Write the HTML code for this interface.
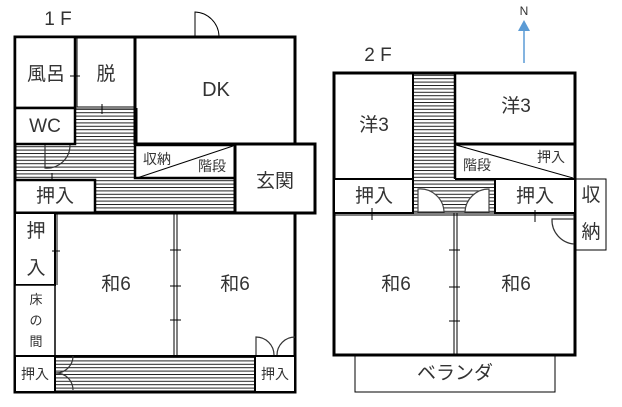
<!DOCTYPE html>
<html><head><meta charset="utf-8"><style>
body{margin:0;background:#fff}
svg{display:block}
text{font-family:"Liberation Sans","Noto Sans CJK JP",sans-serif;fill:#333}
</style></head><body>
<svg width="622" height="407" viewBox="0 0 622 407" xmlns="http://www.w3.org/2000/svg">
<defs>
<pattern id="h" width="8" height="3.4" patternUnits="userSpaceOnUse">
<rect width="8" height="3.4" fill="#fff"/><line x1="0" y1="0.5" x2="8" y2="0.5" stroke="#222" stroke-width="1"/>
</pattern>
</defs>
<rect x="76" y="109" width="59" height="36" fill="url(#h)"/>
<rect x="15" y="145" width="120" height="35" fill="url(#h)"/>
<rect x="95" y="178" width="140" height="35" fill="url(#h)"/>
<rect x="55" y="356" width="200" height="35" fill="url(#h)"/>
<rect x="413" y="74" width="42" height="140" fill="url(#h)"/>
<rect x="413" y="179" width="82" height="34" fill="url(#h)"/>

<g fill="none" stroke="#000">
<rect x="15" y="37" width="280" height="355" stroke-width="3"/>
<rect x="15" y="37" width="60" height="71" stroke-width="2.5" fill="#fff"/>
<rect x="15" y="108" width="60" height="36" stroke-width="2.5" fill="#fff"/>
<rect x="77" y="38" width="58" height="69" stroke-width="1" fill="#fff"/>
<line x1="135" y1="37" x2="135" y2="145" stroke-width="3"/>
<line x1="135" y1="144" x2="295" y2="144" stroke-width="3"/>
<line x1="137" y1="108" x2="137" y2="144" stroke-width="1"/>
<line x1="75" y1="109" x2="137" y2="109" stroke-width="1"/>
<rect x="135" y="145" width="100" height="33" stroke-width="2.5" fill="#fff"/>
<line x1="137" y1="178" x2="233" y2="146" stroke-width="1"/>
<rect x="235" y="144" width="80" height="69" stroke-width="3" fill="#fff"/>
<rect x="15" y="180" width="80" height="33" stroke-width="2.5" fill="#fff"/>
<line x1="15" y1="213" x2="235" y2="213" stroke-width="3"/>
<rect x="15" y="213" width="40" height="72" stroke-width="2" fill="#fff"/>
<line x1="57" y1="213" x2="57" y2="285" stroke-width="1"/>
<rect x="15" y="285" width="40" height="71" stroke-width="1.5" fill="#fff"/>
<line x1="174" y1="213" x2="174" y2="356" stroke-width="1"/>
<line x1="177" y1="213" x2="177" y2="356" stroke-width="1"/>
<line x1="55" y1="356" x2="295" y2="356" stroke-width="2"/>
<rect x="15" y="356" width="40" height="36" stroke-width="2" fill="#fff"/>
<rect x="255" y="356" width="40" height="36" stroke-width="2" fill="#fff"/>
<line x1="70" y1="76" x2="80" y2="76" stroke-width="1"/>
<line x1="102" y1="104" x2="102" y2="114" stroke-width="1"/>
<line x1="52" y1="251" x2="60" y2="251" stroke-width="1"/>
<line x1="170" y1="250" x2="181" y2="250" stroke-width="1"/>
<line x1="170" y1="286" x2="181" y2="286" stroke-width="1"/>
<line x1="170" y1="320" x2="181" y2="320" stroke-width="1"/>
<line x1="52" y1="173" x2="52" y2="180" stroke-width="1"/>
<path d="M195 37 V12 A25 25 0 0 1 219 36" stroke-width="1"/>
<path d="M45 145 V168 A23 23 0 0 0 70 145" stroke="#333" stroke-width="1.2"/>
<path d="M56 373 A17 17 0 0 0 73 356 M56 373 A17 17 0 0 1 73 390" stroke="#333" stroke-width="1.2"/>
<path d="M256 355 V337 A18 18 0 0 1 274 355 M277 355 A18 18 0 0 1 295 337" stroke="#333" stroke-width="1.2"/>

<rect x="334" y="73" width="241" height="282" stroke-width="3"/>
<line x1="413" y1="73" x2="413" y2="213" stroke-width="2"/>
<line x1="455" y1="73" x2="455" y2="179" stroke-width="2.5"/>
<line x1="455" y1="144" x2="575" y2="144" stroke-width="3"/>
<line x1="455" y1="179" x2="495" y2="179" stroke-width="2"/>
<line x1="456" y1="145" x2="573" y2="178" stroke-width="1"/>
<rect x="334" y="179" width="79" height="34" stroke-width="2" fill="#fff"/>
<rect x="495" y="179" width="80" height="34" stroke-width="2" fill="#fff"/>
<line x1="334" y1="215" x2="575" y2="215" stroke-width="1"/>
<line x1="334" y1="213" x2="575" y2="213" stroke-width="1"/>
<line x1="454" y1="213" x2="454" y2="355" stroke-width="1"/>
<line x1="457" y1="213" x2="457" y2="355" stroke-width="1"/>
<rect x="575" y="179" width="31" height="71" stroke-width="1"/>
<rect x="355" y="355" width="200" height="37" stroke-width="1"/>
<line x1="372" y1="208" x2="372" y2="220" stroke-width="1"/>
<line x1="535" y1="210" x2="535" y2="222" stroke-width="1"/>
<line x1="449" y1="250" x2="460" y2="250" stroke-width="1"/>
<line x1="449" y1="287" x2="460" y2="287" stroke-width="1"/>
<line x1="449" y1="321" x2="460" y2="321" stroke-width="1"/>
<path d="M418 212 V189 A24 24 0 0 1 444 212 Z" stroke="#444" stroke-width="1.2" fill="#fff"/>
<path d="M489 212 V189 A24 24 0 0 0 465 212 Z" stroke="#444" stroke-width="1.2" fill="#fff"/>
<path d="M574 219 H552 A24 24 0 0 0 574 244" stroke="#333" stroke-width="1.2"/>
</g>
<line x1="524" y1="28" x2="524" y2="63" stroke="#5b9bd5" stroke-width="1.5"/>
<polygon points="518,31 530,31 524,20" fill="#5b9bd5"/>
<text x="524" y="15" font-size="12" text-anchor="middle">N</text>

<g font-size="19" text-anchor="middle">
<text x="58" y="25" font-size="19">1 F</text>
<text x="378" y="61" font-size="19">2 F</text>
<text x="46" y="80">風呂</text>
<text x="106" y="80">脱</text>
<text x="216" y="96" font-size="20">DK</text>
<text x="45" y="132">WC</text>
<text x="157" y="164" font-size="14">収納</text>
<text x="212" y="171" font-size="14">階段</text>
<text x="275" y="187" font-size="19">玄関</text>
<text x="55" y="202">押入</text>
<text x="36" y="237">押</text>
<text x="36" y="274">入</text>
<text x="36" y="304" font-size="13">床</text>
<text x="36" y="325" font-size="13">の</text>
<text x="36" y="346" font-size="13">間</text>
<text x="116" y="290" font-size="19">和6</text>
<text x="235" y="290" font-size="19">和6</text>
<text x="35" y="379" font-size="14">押入</text>
<text x="275" y="379" font-size="14">押入</text>
<text x="374" y="131" font-size="19">洋3</text>
<text x="516" y="112" font-size="19">洋3</text>
<text x="477" y="170" font-size="14">階段</text>
<text x="551" y="162" font-size="14">押入</text>
<text x="374" y="202">押入</text>
<text x="535" y="202">押入</text>
<text x="591" y="201" font-size="19">収</text>
<text x="591" y="238" font-size="19">納</text>
<text x="396" y="290" font-size="19">和6</text>
<text x="516" y="290" font-size="19">和6</text>
<text x="455" y="379">ベランダ</text>
</g>
</svg>
</body></html>
